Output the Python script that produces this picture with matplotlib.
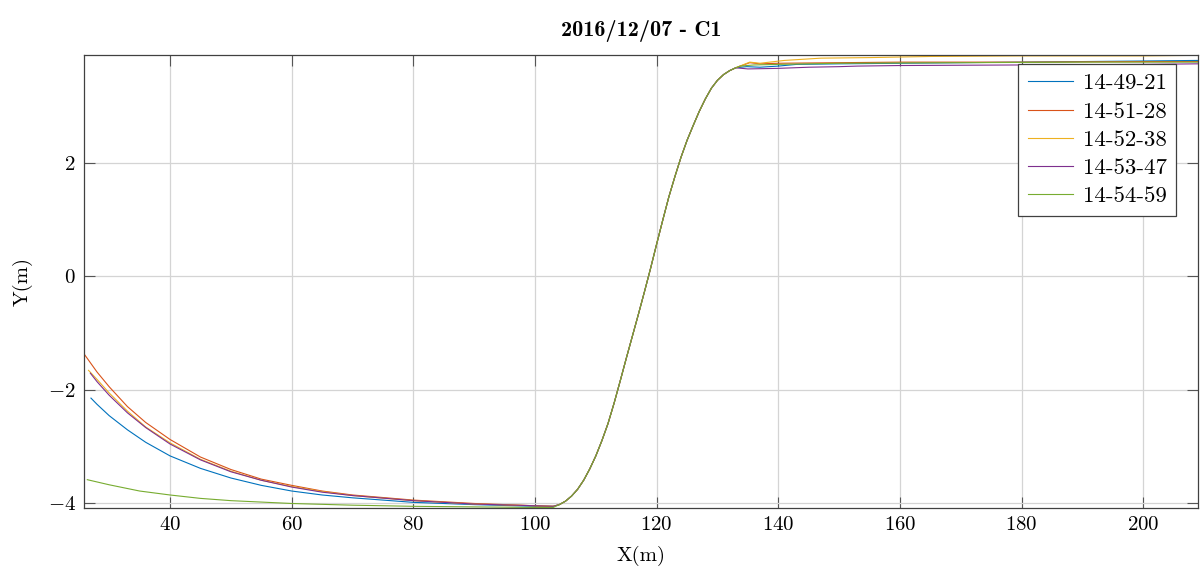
import numpy as np
import matplotlib
matplotlib.use("Agg")
import matplotlib.pyplot as plt

plt.rcParams['font.family'] = ['cmr10', 'DejaVu Sans']
plt.rcParams['mathtext.fontset'] = 'cm'
plt.rcParams['axes.formatter.use_mathtext'] = True
plt.rcParams['font.size'] = 15

title = "2016/12/07 - C1"
labels = ["14-49-21", "14-51-28", "14-52-38", "14-53-47", "14-54-59"]
colors = ["#0072BD", "#D95319", "#EDB120", "#7E2F8E", "#77AC30"]

# shared rising section (all runs nearly overlap here)
x_rise = [104, 105, 106, 107, 108, 109, 110, 111, 112, 113, 114, 115, 116, 117,
          118, 119, 120, 121, 122, 123, 124, 125, 126, 127, 128, 129, 130, 131, 132, 133]
y_rise = [-4.03, -3.97, -3.88, -3.76, -3.60, -3.40, -3.17, -2.90, -2.60, -2.24, -1.85,
          -1.45, -1.06, -0.67, -0.27, 0.14, 0.57, 0.99, 1.40, 1.76, 2.10, 2.40, 2.66,
          2.91, 3.13, 3.32, 3.46, 3.56, 3.63, 3.68]

# left (decay) part per run
x_left = {
    "14-49-21": [27.0, 28, 30, 33, 36, 40, 45, 50, 55, 60, 65, 70, 80, 90, 100, 103],
    "14-51-28": [26.0, 28, 30, 33, 36, 40, 45, 50, 55, 60, 65, 70, 80, 90, 100, 103],
    "14-52-38": [26.6, 28, 30, 33, 36, 40, 45, 50, 55, 60, 65, 70, 80, 90, 100, 103],
    "14-53-47": [26.9, 28, 30, 33, 36, 40, 45, 50, 55, 60, 65, 70, 80, 90, 100, 103],
    "14-54-59": [26.4, 30, 35, 40, 45, 50, 60, 70, 80, 90, 100, 103],
}
y_left = {
    "14-49-21": [-2.15, -2.26, -2.46, -2.71, -2.93, -3.17, -3.39, -3.56, -3.69, -3.79,
                 -3.86, -3.91, -3.99, -4.03, -4.06, -4.06],
    "14-51-28": [-1.39, -1.69, -1.95, -2.30, -2.58, -2.88, -3.19, -3.41, -3.58, -3.69,
                 -3.79, -3.86, -3.95, -4.01, -4.05, -4.06],
    "14-52-38": [-1.66, -1.82, -2.06, -2.38, -2.66, -2.94, -3.23, -3.44, -3.60, -3.71,
                 -3.80, -3.87, -3.96, -4.02, -4.05, -4.06],
    "14-53-47": [-1.71, -1.86, -2.10, -2.41, -2.67, -2.96, -3.24, -3.45, -3.60, -3.72,
                 -3.81, -3.87, -3.96, -4.02, -4.05, -4.06],
    "14-54-59": [-3.59, -3.68, -3.79, -3.86, -3.92, -3.96, -4.01, -4.04, -4.06, -4.07,
                 -4.08, -4.08],
}

# right (plateau) part per run
x_right = {
    "14-49-21": [134.8, 137, 140, 143, 150, 160, 170, 180, 190, 200, 209],
    "14-51-28": [135.3, 137, 140, 150, 160, 180, 200, 209],
    "14-52-38": [135.3, 137, 141, 147, 155, 165, 180, 200, 209],
    "14-53-47": [135, 140, 145, 150, 153, 160, 180, 200, 209],
    "14-54-59": [133.7, 136, 140, 150, 170, 190, 209],
}
y_right = {
    "14-49-21": [3.70, 3.69, 3.71, 3.74, 3.75, 3.76, 3.77, 3.78, 3.79, 3.80, 3.81],
    "14-51-28": [3.77, 3.75, 3.76, 3.77, 3.78, 3.78, 3.79, 3.79],
    "14-52-38": [3.78, 3.76, 3.81, 3.85, 3.86, 3.88, 3.89, 3.89, 3.90],
    "14-53-47": [3.66, 3.67, 3.69, 3.70, 3.71, 3.72, 3.73, 3.74, 3.75],
    "14-54-59": [3.71, 3.73, 3.74, 3.76, 3.77, 3.78, 3.78],
}

fig = plt.figure(figsize=(12.02, 5.71), dpi=100)
ax = fig.add_axes([0.0699, 0.1103, 0.9268, 0.7934])

for lab, c in zip(labels, colors):
    xs = x_left[lab] + x_rise + x_right[lab]
    ys = y_left[lab] + y_rise + y_right[lab]
    ax.plot(xs, ys, color=c, lw=0.8, label=lab)

ax.set_xlim(25.86, 209)
ax.set_ylim(-4.09, 3.906)
ax.set_xticks(np.arange(40, 201, 20))
ax.set_yticks([-4, -2, 0, 2])
ax.grid(True, color="#d4d4d4", lw=0.9)
ax.set_axisbelow(True)
ax.tick_params(direction="in", length=8, width=0.8, color="#555555",
               top=True, right=True, labelsize=15, pad=6)
for s in ax.spines.values():
    s.set_color("#404040")
    s.set_linewidth(0.9)

ax.set_xlabel("X(m)", fontsize=15, labelpad=8)
ax.set_ylabel("Y(m)", fontsize=15, labelpad=11)
ax.set_title(title, fontfamily="cmb10", fontsize=16, pad=14)

leg = ax.legend(loc="upper right", bbox_to_anchor=(0.980, 0.980), borderaxespad=0,
                fancybox=False, framealpha=1, edgecolor="#404040", fontsize=16.5,
                handlelength=2.0, handletextpad=0.4, labelspacing=0.36,
                borderpad=0.4)
leg.get_frame().set_linewidth(0.9)

fig.savefig("out.png", dpi=100)
